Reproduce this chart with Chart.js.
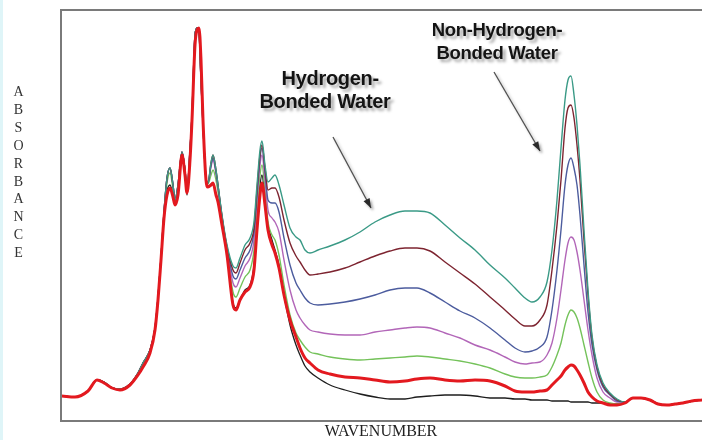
<!DOCTYPE html>
<html>
<head>
<meta charset="utf-8">
<script src="https://cdn.jsdelivr.net/npm/chart.js@4.4.1/dist/chart.umd.min.js"></script>
<style>
  html, body { margin: 0; padding: 0; background: #fff; }
  #wrap { position: relative; width: 702px; height: 440px; overflow: hidden; }
  #strip { position: absolute; left: 0; top: 0; width: 3px; height: 440px; background: #dff5f8; }
  canvas { position: absolute; left: 0; top: 0; }
  .ytitle { position: absolute; left: 11px; top: 83px; width: 15px; text-align: center;
    font-family: "Liberation Serif", serif; font-size: 14px; line-height: 17.9px; color: #333; }
  .xtitle { position: absolute; left: 0; top: 422px; width: 762px; text-align: center;
    font-family: "Liberation Serif", serif; font-size: 16px; color: #222; }
  .note { position: absolute; text-align: center; font-family: "Liberation Sans", Arial, sans-serif;
    font-weight: bold; color: #141414; letter-spacing: -0.3px;
    text-shadow: 3px 3px 3px rgba(0,0,0,0.35); }
</style>
</head>
<body>
<div id="wrap">
  <div id="strip"></div>
  <canvas id="chart" width="702" height="440"></canvas>
  <div class="ytitle">A<br>B<br>S<br>O<br>R<br>B<br>A<br>N<br>C<br>E</div>
  <div class="xtitle">WAVENUMBER</div>
  <div class="note" style="left:235px; top:67px; width:180px; font-size:20px; line-height:23px;">&nbsp;&nbsp;Hydrogen-<br>Bonded Water</div>
  <div class="note" style="left:407px; top:18px; width:180px; font-size:18.5px; line-height:23px;">Non-Hydrogen-<br>Bonded Water</div>
</div>
<script>
// wavenumber axis (arbitrary units, no ticks shown on the original)
const wavenumber = [1,14,27,36,43,51,59,69,77,82,89,94,97,100,103,106,109,112,114,117,121,124,126,129,131,134,136,138,140,142,145,147,150,152,155,157,161,166,172,175,
  179,184,189,193,196,199,201,204,207,211,214,218,223,229,235,239,244,249,257,269,284,299,314,329,344,356,369,384,399,414,429,444,454,464,471,479,486,491,496,500,504,507,510,513,516,519,523,527,531,536,542,549,556,564,572,580,589,597,606,614,622,631,641];

// absorbance (arbitrary units), one array per sample
const red = [25,24,30,41,38,33,31,36,46,54,68,91,121,161,203,226,233,224,216,226,266,246,228,261,301,376,391,393,361,301,241,234,236,238,226,219,196,166,116,111,
  121,129,134,151,191,226,238,216,191,176,168,153,126,101,84,73,63,58,51,47,44,43,41,39,40,42,43,41,40,41,40,35,30,29,29,30,31,36,41,45,51,54,56,55,51,46,38,29,24,20,18,16,16,18,23,23,21,17,16,17,18,20,21];
const teal = [25,24,30,41,39,33,32,37,48,58,71,93,123,163,209,243,253,236,221,236,269,251,231,271,306,386,393,389,341,296,243,238,258,266,251,236,206,176,155,153,
  163,176,183,199,236,271,280,256,239,243,246,236,216,193,184,181,171,168,171,175,181,189,199,206,210,210,208,196,183,171,156,143,133,123,119,124,139,171,221,273,321,341,345,326,296,256,191,131,86,56,38,28,22,19,23,23,21,17,16,17,18,20,21];
const maroon = [25,24,30,41,39,33,32,37,48,58,71,93,123,163,209,243,253,236,221,236,269,251,231,271,306,386,393,389,341,296,243,238,258,266,251,236,205,174,151,148,
  158,171,178,193,231,266,276,253,231,233,233,224,201,178,165,159,151,146,147,149,153,159,165,170,173,173,170,159,148,137,124,111,102,95,95,101,116,151,196,241,293,313,316,303,276,241,181,126,83,54,36,27,21,19,23,23,21,17,16,17,18,20,21];
const blue = [25,24,30,41,39,33,32,37,48,58,71,93,123,163,209,243,253,236,221,236,269,251,231,271,306,386,393,389,341,296,243,238,256,263,249,235,204,173,145,142,
  151,163,171,189,226,263,273,249,221,218,218,209,183,156,138,131,123,118,116,117,119,122,126,131,133,133,128,119,110,103,93,81,73,69,70,74,84,111,151,191,236,256,263,253,236,206,156,109,76,51,34,26,20,19,23,23,21,17,16,17,18,20,21];
const purple = [25,24,30,41,39,33,32,37,48,58,71,93,123,163,209,243,253,236,221,236,269,251,231,271,306,386,393,389,341,296,243,238,254,261,247,233,203,171,138,134,
  143,155,163,181,221,256,266,241,211,203,199,189,161,131,111,103,96,91,89,87,86,86,89,91,93,94,93,88,83,76,71,64,59,57,58,59,66,78,103,131,161,178,184,181,169,151,121,91,66,43,29,23,19,19,23,23,21,17,16,17,18,20,21];
const green = [25,24,30,41,39,33,32,37,48,58,71,93,123,163,207,238,248,232,219,233,268,249,230,268,305,384,392,390,345,298,243,237,246,251,241,229,201,169,129,124,
  133,144,151,171,211,246,256,231,199,186,181,166,136,106,88,81,74,69,67,64,62,61,62,63,64,65,64,62,60,57,53,47,44,43,43,44,46,54,66,78,96,106,111,109,103,93,76,59,43,29,21,18,17,18,23,23,21,17,16,17,18,20,21];
const black = [25,24,30,41,38,33,31,36,46,54,68,91,121,161,205,230,236,226,216,228,266,248,226,262,302,380,392,390,355,300,241,234,237,238,227,220,199,166,118,113,
  121,131,136,156,201,236,246,221,196,181,171,156,126,96,76,66,55,49,43,36,31,27,24,22,22,24,25,26,26,25,23,23,22,22,21,21,21,20,20,20,20,20,19,19,19,19,19,19,18,18,18,17,17,18,23,23,21,17,16,17,18,20,21];

const series = [
  { name: "S6", values: red, color: "#e3191f", width: 3 },
  { name: "S0", values: teal, color: "#3a9a86", width: 1.4 },
  { name: "S1", values: maroon, color: "#7d2430", width: 1.4 },
  { name: "S2", values: blue, color: "#4c5c9e", width: 1.4 },
  { name: "S3", values: purple, color: "#b266b8", width: 1.4 },
  { name: "S4", values: green, color: "#74c25a", width: 1.4 },
  { name: "S5", values: black, color: "#1e1e1e", width: 1.3 },
];

// frame round the plot and the two pointer arrows
const framePlugin = {
  id: "frame",
  afterDraw(chart) {
    const { ctx, chartArea } = chart;
    ctx.save();
    ctx.strokeStyle = "#7a7a7a";
    ctx.lineWidth = 2;
    ctx.beginPath();
    ctx.moveTo(702, chartArea.top);
    ctx.lineTo(chartArea.left, chartArea.top);
    ctx.lineTo(chartArea.left, chartArea.bottom);
    ctx.lineTo(702, chartArea.bottom);
    ctx.stroke();

    const arrow = (x1, y1, x2, y2) => {
      const ang = Math.atan2(y2 - y1, x2 - x1);
      ctx.shadowColor = "rgba(0,0,0,0.3)";
      ctx.shadowBlur = 3;
      ctx.shadowOffsetX = 2;
      ctx.shadowOffsetY = 2;
      ctx.strokeStyle = "#505050";
      ctx.fillStyle = "#2a2a2a";
      ctx.lineWidth = 1.3;
      ctx.beginPath();
      ctx.moveTo(x1, y1);
      ctx.lineTo(x2, y2);
      ctx.stroke();
      ctx.beginPath();
      ctx.moveTo(x2, y2);
      ctx.lineTo(x2 - 10 * Math.cos(ang - 0.35), y2 - 10 * Math.sin(ang - 0.35));
      ctx.lineTo(x2 - 10 * Math.cos(ang + 0.35), y2 - 10 * Math.sin(ang + 0.35));
      ctx.closePath();
      ctx.fill();
    };
    arrow(333, 137, 371, 208);
    arrow(494, 72, 540, 151);
    ctx.restore();
  },
};

new Chart(document.getElementById("chart"), {
  type: "line",
  data: {
    datasets: series.map((s) => ({
      label: s.name,
      data: wavenumber.map((w, i) => ({ x: w, y: s.values[i] })),
      borderColor: s.color,
      borderWidth: s.width,
      pointRadius: 0,
      cubicInterpolationMode: "monotone",
      fill: false,
    })),
  },
  options: {
    responsive: false,
    animation: false,
    layout: { padding: { left: 61, right: 0, top: 10, bottom: 19 } },
    plugins: { legend: { display: false }, tooltip: { enabled: false } },
    scales: {
      x: { type: "linear", min: 0, max: 641, display: false },
      y: { min: 0, max: 411, display: false },
    },
  },
  plugins: [framePlugin],
});
</script>
</body>
</html>
